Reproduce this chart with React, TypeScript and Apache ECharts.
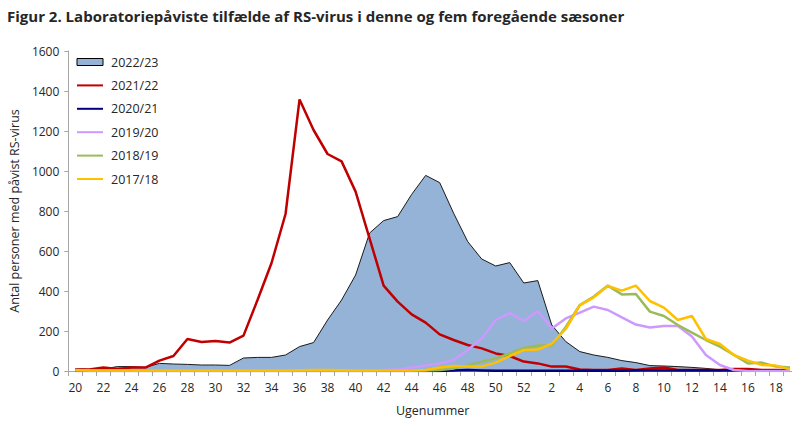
import React, { useEffect, useRef } from "react";
import * as echarts from "echarts";

const weeks: string[] = [
  "20","21","22","23","24","25","26","27","28","29","30","31","32","33","34","35","36","37","38","39","40",
  "41","42","43","44","45","46","47","48","49","50","51","52",
  "1","2","3","4","5","6","7","8","9","10","11","12","13","14","15","16","17","18","19",
];

const s2022_23: number[] = [
  12, 8, 10, 22, 22, 18, 38, 35, 33, 30, 30, 28, 65, 68, 68, 80, 122, 142, 255, 355, 480,
  690, 752, 772, 883, 978, 942, 788, 647, 560, 525, 542, 440,
  452, 230, 147, 97, 80, 68, 52, 42, 27, 25, 22, 18, 13, 6, 4, 3, 3, 3, 3,
];

const s2021_22: number[] = [
  8, 8, 17, 10, 17, 17, 52, 75, 160, 145, 150, 142, 177, 355, 540, 785, 1358, 1205, 1085, 1048, 897,
  662, 427, 347, 283, 242, 183, 155, 130, 113, 88, 75, 47,
  38, 22, 22, 8, 5, 5, 12, 5, 13, 18, 5, 5, 5, 5, 10, 10, 5, 5, 5,
];

const s2020_21: number[] = [
  0, 0, 0, 0, 0, 0, 0, 0, 0, 0, 0, 0, 0, 0, 0, 0, 0, 0, 0, 0, 0,
  0, 0, 0, 0, 0, 0, 2, 5, 3, 1, 1, 1,
  1, 1, 1, 1, 1, 1, 1, 2, 2, 2, 2, 2, 2, 2, 2, 2, 2, 1, 1,
];

const s2019_20: number[] = [
  5, 2, 1, 1, 1, 1, 1, 1, 1, 1, 1, 1, 1, 1, 1, 1, 1, 1, 1, 1, 2,
  3, 5, 8, 18, 27, 38, 55, 105, 163, 255, 290, 250,
  300, 213, 263, 292, 322, 305, 268, 232, 218, 225, 225, 172, 80, 30, 5, 0, 0, 0, 0,
];

const s2018_19: number[] = [
  3, 2, 2, 2, 2, 2, 2, 2, 2, 2, 2, 2, 2, 2, 2, 2, 2, 2, 2, 2, 2,
  2, 2, 2, 3, 3, 5, 13, 28, 47, 63, 88, 115,
  128, 128, 220, 330, 372, 427, 383, 385, 297, 275, 230, 192, 155, 122, 80, 38, 42, 22, 17,
];

const s2017_18: number[] = [
  5, 3, 3, 3, 3, 3, 3, 3, 3, 3, 3, 3, 3, 3, 3, 3, 4, 5, 5, 4, 3,
  3, 3, 3, 3, 5, 18, 25, 22, 22, 42, 75, 105,
  107, 137, 210, 328, 368, 425, 402, 427, 350, 317, 255, 275, 160, 135, 80, 52, 30, 27, 8,
];

const yTicks = { min: 0, max: 1600, interval: 200 };

const FONT = "'Open Sans', 'Noto Sans', sans-serif";
const TXT = "#262626";

export default function App() {
  const ref = useRef<HTMLDivElement>(null);

  useEffect(() => {
    if (!ref.current) return;
    const chart = echarts.init(ref.current, null, { renderer: "svg" });

    const lineSeries = (name: string, data: number[], color: string) => ({
      name,
      type: "line",
      data,
      symbol: "none",
      color,
      lineStyle: { color, width: 2.5 },
      itemStyle: { color },
    });

    chart.setOption({
      animation: false,
      textStyle: { fontFamily: FONT },
      title: {
        text: "Figur 2. Laboratoriepåviste tilfælde af RS-virus i denne og fem foregående sæsoner",
        left: 2,
        top: 3,
        textStyle: { fontFamily: FONT, fontSize: 15, fontWeight: "bold", color: TXT },
      },
      grid: { left: 62, right: 3, top: 51, bottom: 55, containLabel: false },
      legend: {
        orient: "vertical",
        left: 76,
        top: 55,
        padding: 0,
        itemWidth: 26,
        itemHeight: 7,
        itemGap: 9.4,
        itemStyle: { opacity: 0 },
        textStyle: { fontFamily: FONT, fontSize: 12.5, color: TXT, lineHeight: 14, padding: [0, 0, 0, 3] },
        data: [
          {
            name: "2022/23",
            icon: "rect",
            itemStyle: { opacity: 1, color: "#95B3D7", borderColor: "#000", borderWidth: 1 },
          },
          { name: "2021/22" },
          { name: "2020/21" },
          { name: "2019/20" },
          { name: "2018/19" },
          { name: "2017/18" },
        ],
      },
      xAxis: {
        type: "category",
        data: weeks,
        boundaryGap: true,
        name: "Ugenummer",
        nameLocation: "middle",
        nameGap: 33,
        nameTextStyle: { fontFamily: FONT, fontSize: 12.5, color: TXT },
        axisLine: { lineStyle: { color: "#a6a6a6", width: 1 } },
        axisTick: { show: true, interval: 0, length: 5, lineStyle: { color: "#a6a6a6" } },
        axisLabel: { interval: 1, margin: 10, fontFamily: FONT, fontSize: 12, color: TXT },
        splitLine: { show: false },
      },
      yAxis: {
        type: "value",
        min: yTicks.min,
        max: yTicks.max,
        interval: yTicks.interval,
        name: "Antal personer med påvist RS-virus",
        nameLocation: "middle",
        nameGap: 42,
        nameTextStyle: { fontFamily: FONT, fontSize: 12.5, color: TXT },
        axisLine: { show: true, lineStyle: { color: "#a6a6a6", width: 1 } },
        axisTick: { show: true, length: 4, lineStyle: { color: "#a6a6a6" } },
        axisLabel: {
          margin: 9,
          fontFamily: FONT,
          fontSize: 12,
          color: TXT,
          formatter: (v: number) => String(v),
        },
        splitLine: { show: false },
      },
      series: [
        {
          name: "2022/23",
          type: "line",
          data: s2022_23,
          symbol: "none",
          color: "#95B3D7",
          itemStyle: { color: "#95B3D7" },
          lineStyle: { color: "#1a1a1a", width: 1 },
          areaStyle: { color: "#95B3D7", opacity: 1 },
        },
        lineSeries("2021/22", s2021_22, "#C00000"),
        lineSeries("2020/21", s2020_21, "#000080"),
        lineSeries("2019/20", s2019_20, "#CC99FF"),
        lineSeries("2018/19", s2018_19, "#9BBB59"),
        lineSeries("2017/18", s2017_18, "#FFC000"),
      ],
    });

    return () => chart.dispose();
  }, []);

  return <div ref={ref} style={{ width: 800, height: 426, margin: -8 }} />;
}
